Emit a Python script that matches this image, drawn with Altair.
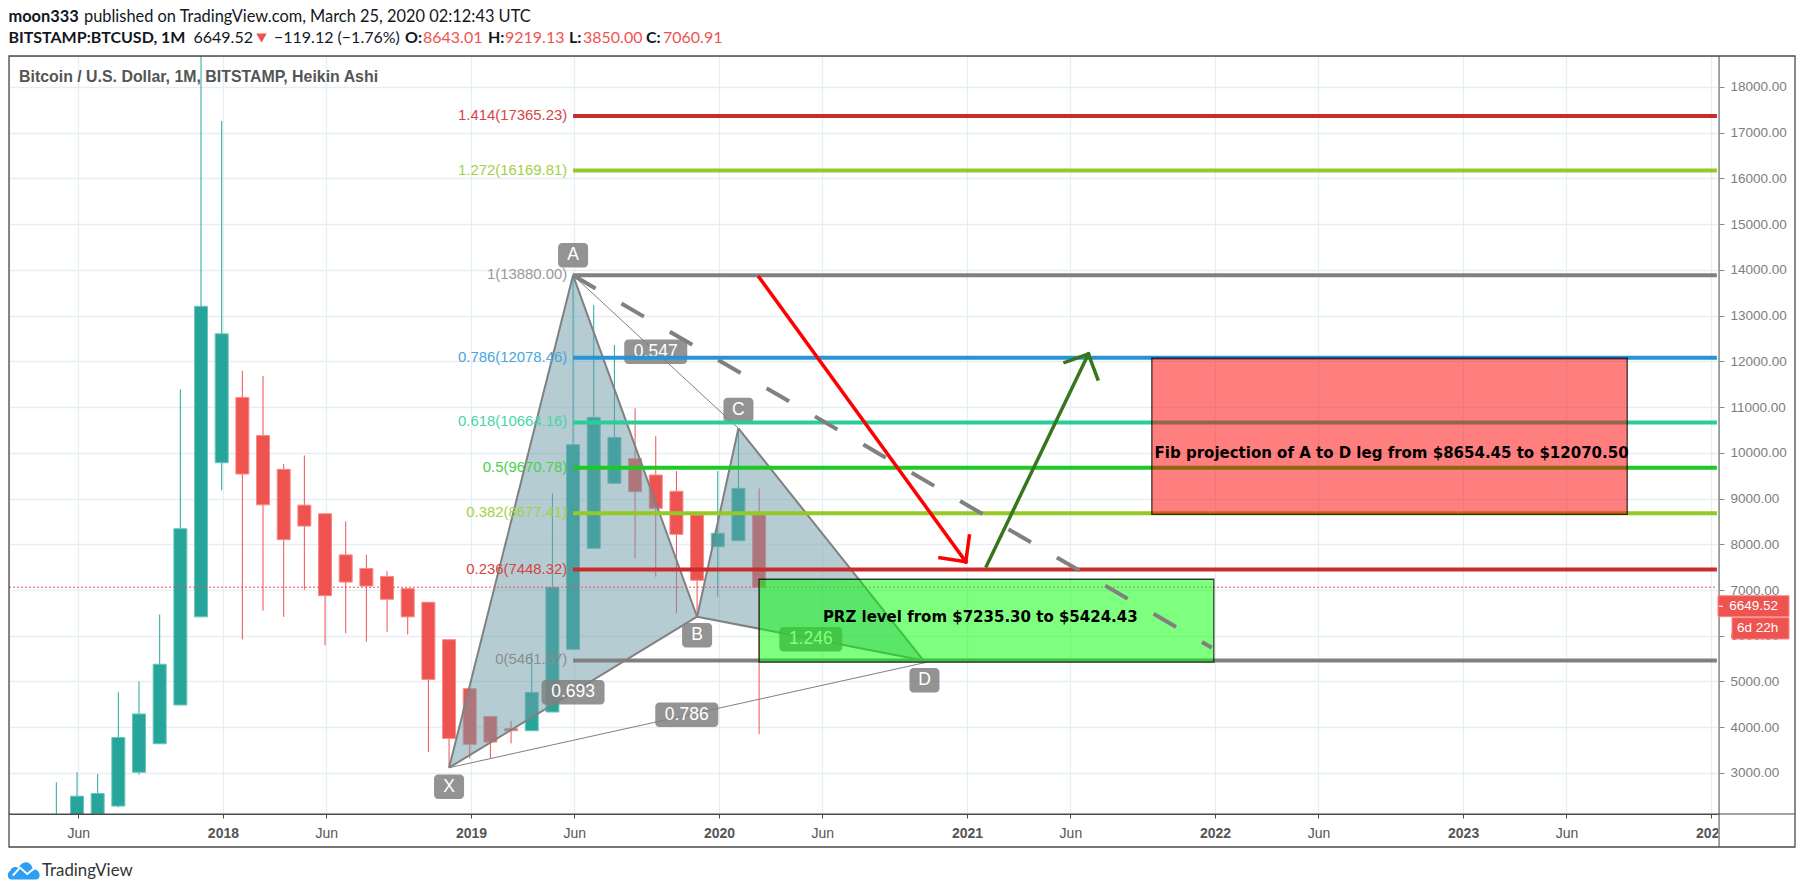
import altair as alt
import pandas as pd

# ---- data ----
months = list(range(4, 39))  # 4 = May 2017 ... 38 = Mar 2020 (0 = Jan 2017)
opens = [1400,1900,2100,2276,3015,3638,4486,6413,9782,11210,10377,9638,8855,8667,7768,7471,7297,7029,6732,5914,4843,4237,3968,3924,4332,5703,7911,9332,9871,9514,9158,8640,7947,8078,8643.01]
highs = [2797,3015,2978,4775,5000,6464,11384,19666,17254,11790,11681,9754,9942,8667,8500,7768,7413,7029,6732,5914,4843,4237,4135,5637,9114,13924,13231,12356,10972,10367,9602,8640,9602,10535,9219.13]
lows = [1300,1850,2000,2247,2964,3638,4486,6413,9181,5920,6551,6413,7007,5790,6058,5870,6087,6029,3458,3115,3319,3319,3647,3924,4332,5703,7911,9332,7692,7292,6490,6417,6854,8078,3850]
closes = [1900,2493,2551,3776,4290,5377,8340,13203,12601,9536,8862,8101,8398,6877,7174,7087,6797,6413,5046,3756,3625,3676,3924,4762,7058,10177,10775,10337,9149,8786,8217,7212,8240,9223,7060.91]

fib_levels = [17365.23,16169.81,13880.00,12078.46,10664.16,9670.78,8677.41,7448.32,5461.57]
fib_labels = ["1.414(17365.23)","1.272(16169.81)","1(13880.00)","0.786(12078.46)","0.618(10664.16)","0.5(9670.78)","0.382(8677.41)","0.236(7448.32)","0(5461.57)"]
fib_colors = ["#cc2b2b","#94c926","#808080","#2a93d5","#27cf96","#1ec925","#94c926","#cc2b2b","#808080"]
fib_text_colors = ["#d64545","#a3d145","#999999","#4aa5dc","#47d6a6","#45d14a","#a3d145","#d64545","#8c8c8c"]

tick_idx = [5,12,17,24,29,36,41,48,53,60,65,72,77,84]
tick_labels = ["Jun","2018","Jun","2019","Jun","2020","Jun","2021","Jun","2022","Jun","2023","Jun","2024"]
y_ticks = list(range(3000, 19000, 1000))

tri1_x = [23, 29, 35]; tri1_top = [3115, 13880, 6416]; tri1_bot = [3115, 4766, 6416]
tri2_x = [35, 37, 45.95]; tri2_top = [6416, 10535, 5461]; tri2_bot = [6416, 6242, 5461]

edge_x1 = [23, 29, 35, 37, 35, 23]
edge_y1 = [3115, 13880, 6416, 10535, 6416, 3115]
edge_x2 = [29, 35, 37, 45.95, 45.95, 35]
edge_y2 = [13880, 6416, 10535, 5461, 5461, 6416]

thin_x1 = [29, 23]; thin_y1 = [13880, 3115]; thin_x2 = [37, 46.1]; thin_y2 = [10535, 5420]

letter_x = [23, 29, 35, 37, 46]
letter_y = [2700, 14317, 6010, 10935, 5026]
letter_t = ["X", "A", "B", "C", "D"]
ratio_x = [33, 29, 34.5, 40.5]
ratio_y = [12210, 4766, 4274, 5922]
ratio_t = ["0.547", "0.693", "0.786", "1.246"]

red_x1 = [38, 46.75, 48.17]; red_y1 = [13836, 7706, 8180]; red_x2 = [48, 48, 48]; red_y2 = [7619, 7619, 7619]
grn_x1 = [49, 52.8, 54.38]; grn_y1 = [7525, 11978, 11613]; grn_x2 = [53.93, 53.93, 53.93]; grn_y2 = [12160, 12160, 12160]

current_close = 7060.91
current_price = 6649.52

FS = "Liberation Sans"

xscale = alt.Scale(domain=[1.71, 84.44], nice=False, zero=False, padding=0)
yscale = alt.Scale(domain=[2103, 18675], nice=False, zero=False, padding=0)

tick_vals = [round(t + 0.06, 2) for t in tick_idx]
label_expr = "[" + ",".join(f"'{s}'" for s in tick_labels) + "][indexof([" + ",".join(str(v) for v in tick_vals) + "],datum.value)]"
xaxis = alt.Axis(
    values=tick_vals, labelExpr=label_expr, grid=True, gridColor="#e6eef5", gridWidth=1.3,
    domainColor="#4a4a4a", tickColor="#4a4a4a", tickSize=4, labelFont=FS, labelFontSize=14,
    labelColor="#555555", labelPadding=8, title=None,
    labelFontWeight=alt.condition("round(datum.value-0.06)%12==0", alt.value("bold"), alt.value("normal")),
    labelOverlap=False, labelFlush=False, labelBound=False)
yaxis = alt.Axis(
    orient="right", values=y_ticks, format=".2f", grid=True, gridColor="#e6eef5", gridWidth=1.3,
    domain=False, tickColor="#888888", tickSize=5, labelFont=FS, labelFontSize=13.5, title=None,
    labelColor="#7d7d7d", labelPadding=6, labelOverlap=False, labelBound=False)
X = lambda f: alt.X(f, scale=xscale, axis=xaxis)
Y = lambda f: alt.Y(f, scale=yscale, axis=yaxis)

df = pd.DataFrame(dict(x=months, o=opens, h=highs, l=lows, c=closes))
up = df[df.c >= df.o]
dn = df[df.c < df.o]

layers = []

# candles
for d, col, edge in [(up, "#26a69a", "#6cc5bc"), (dn, "#ef5350", "#f58b89")]:
    layers.append(alt.Chart(d).mark_rule(color=col, strokeWidth=1, clip=True).encode(x=X("x:Q"), y=Y("l:Q"), y2="h:Q"))
    layers.append(alt.Chart(d).mark_bar(size=13, color=col, stroke=edge, strokeWidth=1, clip=True).encode(x=X("x:Q"), y=Y("o:Q"), y2="c:Q"))

# harmonic pattern
for xs, top, bot in [(tri1_x, tri1_top, tri1_bot), (tri2_x, tri2_top, tri2_bot)]:
    layers.append(alt.Chart(pd.DataFrame(dict(x=xs, t=top, b=bot))).mark_area(color="#6b99a7", opacity=0.5).encode(x=X("x:Q"), y=Y("t:Q"), y2="b:Q"))
layers.append(alt.Chart(pd.DataFrame(dict(x=edge_x1, y=edge_y1, x2=edge_x2, y2=edge_y2))).mark_rule(color="#808080", strokeWidth=2).encode(x=X("x:Q"), y=Y("y:Q"), x2="x2:Q", y2="y2:Q"))
layers.append(alt.Chart(pd.DataFrame(dict(x=thin_x1, y=thin_y1, x2=thin_x2, y2=thin_y2))).mark_rule(color="#808080", strokeWidth=1).encode(x=X("x:Q"), y=Y("y:Q"), x2="x2:Q", y2="y2:Q"))
ld = pd.DataFrame(dict(x=letter_x, y=letter_y, t=letter_t))
rd = pd.DataFrame(dict(x=ratio_x, y=ratio_y, t=ratio_t))
layers.append(alt.Chart(ld).mark_rect(width=30, height=24.5, cornerRadius=4, color="#808080", opacity=0.85).encode(x=X("x:Q"), y=Y("y:Q")))
layers.append(alt.Chart(rd).mark_rect(width=63, height=24.5, cornerRadius=4, color="#808080", opacity=0.85).encode(x=X("x:Q"), y=Y("y:Q")))
for d in (ld, rd):
    layers.append(alt.Chart(d).mark_text(font=FS, fontSize=17.5, color="#ffffff", baseline="middle", align="center").encode(x=X("x:Q"), y=Y("y:Q"), text="t:N"))

# fib levels
fd = pd.DataFrame(dict(y=fib_levels, t=fib_labels, c=fib_colors, tc=fib_text_colors, x=[29]*9, x2=[84.34]*9, lx=[28.72]*9))
layers.append(alt.Chart(fd).mark_rule(strokeWidth=4).encode(x=X("x:Q"), x2="x2:Q", y=Y("y:Q"), color=alt.Color("c:N", scale=None)))
layers.append(alt.Chart(fd).mark_text(font=FS, fontSize=14.9, align="right", baseline="middle").encode(x=X("lx:Q"), y=Y("y:Q"), text="t:N", color=alt.Color("tc:N", scale=None)))

# last-close line
layers.append(alt.Chart(pd.DataFrame(dict(y=[current_close], x=[1.71], x2=[84.34]))).mark_rule(color="#ef5350", strokeWidth=1, strokeDash=[2, 2]).encode(x=X("x:Q"), x2="x2:Q", y=Y("y:Q")))

# zones
zones = [(38, 60, 7235.30, 5424.43, "#00ff00"), (57, 80, 12070.50, 8654.45, "#ff0000")]
for x1, x2, y1, y2, col in zones:
    layers.append(alt.Chart(pd.DataFrame(dict(x=[x1], x2=[x2], y=[y1], y2=[y2]))).mark_rect(color=col, fillOpacity=0.5, stroke="#000000", strokeOpacity=0.75, strokeWidth=1.3).encode(x=X("x:Q"), x2="x2:Q", y=Y("y:Q"), y2="y2:Q"))
zone_txt = pd.DataFrame(dict(x=[48.7, 68.6], y=[6416, 10002], t=["PRZ level from $7235.30 to $5424.43", "Fib projection of A to D leg from $8654.45 to $12070.50"]))
layers.append(alt.Chart(zone_txt).mark_text(font="DejaVu Sans", fontWeight="bold", fontSize=15, color="#000000", align="center", baseline="middle").encode(x=X("x:Q"), y=Y("y:Q"), text="t:N"))

# dashed trend line (above the zones)
layers.append(alt.Chart(pd.DataFrame(dict(x=[29], y=[13880], x2=[59.9], y2=[5738]))).mark_rule(color="#808080", strokeWidth=4, strokeDash=[26, 30]).encode(x=X("x:Q"), y=Y("y:Q"), x2="x2:Q", y2="y2:Q"))

# arrows
for a, b, c, d, col in [(red_x1, red_y1, red_x2, red_y2, "#ff0000"), (grn_x1, grn_y1, grn_x2, grn_y2, "#38761d")]:
    layers.append(alt.Chart(pd.DataFrame(dict(x=a, y=b, x2=c, y2=d))).mark_rule(color=col, strokeWidth=3.5, strokeCap="square").encode(x=X("x:Q"), y=Y("y:Q"), x2="x2:Q", y2="y2:Q"))

# ---- chart furniture in plot pixels ----
OX, OY = 9, 56
def txt(s, px, py, size, color, font=FS, weight="normal", align="left"):
    return alt.Chart(pd.DataFrame(dict(t=[s]))).mark_text(font=font, fontSize=size, color=color, fontWeight=weight, align=align, baseline="middle").encode(
        x=alt.value(px - OX), y=alt.value(py - OY), text="t:N")
def box(x1, x2, y1, y2, **kw):
    return alt.Chart(pd.DataFrame(dict(a=[0]))).mark_rect(**kw).encode(
        x=alt.value(x1 - OX), x2=alt.value(x2 - OX), y=alt.value(y1 - OY), y2=alt.value(y2 - OY))

# mask cuts the last year label at the price scale
layers.append(box(1720, 1794, 815, 846, color="#ffffff"))
# rule along the bottom and price-scale edge
layers.append(box(1718.2, 1720, 56, 847, color="#9a9a9a"))
layers.append(box(9, 1795, 813.6, 814.6, color="#4a4a4a"))
layers.append(box(9, 1795, 56, 847, fillOpacity=0, fill="#ffffff", stroke="#4a4a4a", strokeWidth=1.3))

# price tag
layers.append(box(1718, 1789, 595.7, 616.7, color="#ef5350", stroke="#f58b89", strokeWidth=1))
layers.append(box(1732, 1789, 617.7, 639, color="#ef5350", stroke="#f58b89", strokeWidth=1))
layers.append(box(1719, 1723, 605.7, 606.7, color="#ffffff"))
layers.append(txt(f"{current_price:.2f}", 1729.3, 606.2, 13.5, "#ffffff"))
layers.append(txt("6d 22h", 1737, 628.3, 13.5, "#ffffff"))

# header
HF = "Lato"
black = "#131722"
runs = [
    ("moon333", 8.4, 16.7, "bold", black, 16.4),
    ("published on TradingView.com, March 25, 2020 02:12:43 UTC", 84, 16.7, "normal", black, 16.4),
    ("BITSTAMP:BTCUSD, 1M", 8.4, 38.3, "bold", black, 16),
    ("6649.52", 193.5, 38.3, "normal", black, 16),
    ("\u2212119.12 (\u22121.76%)", 274, 38.3, "normal", black, 16),
    ("O:", 405, 38.3, "bold", black, 16),
    ("8643.01", 423, 38.3, "normal", "#ef5350", 16),
    ("H:", 488, 38.3, "bold", black, 16),
    ("9219.13", 505, 38.3, "normal", "#ef5350", 16),
    ("L:", 569, 38.3, "bold", black, 16),
    ("3850.00", 583, 38.3, "normal", "#ef5350", 16),
    ("C:", 646, 38.3, "bold", black, 16),
    ("7060.91", 663, 38.3, "normal", "#ef5350", 16),
]
for s, px, py, w, c, fs in runs:
    layers.append(txt(s, px, py, fs, c, font=HF, weight=w))
layers.append(alt.Chart(pd.DataFrame(dict(a=[0]))).mark_point(shape="triangle-down", filled=True, color="#ef5350", opacity=1, size=110).encode(x=alt.value(261.5 - OX), y=alt.value(38 - OY)))
layers.append(txt("Bitcoin / U.S. Dollar, 1M, BITSTAMP, Heikin Ashi", 19, 76.7, 15.9, "#555555", weight="bold"))

# logo
cloud = "M -0.8 0.6 C -1.05 0.6 -1.1 0.15 -0.85 0.05 C -0.8 -0.2 -0.5 -0.25 -0.35 -0.1 C -0.2 -0.55 0.35 -0.65 0.5 -0.2 C 0.55 -0.1 0.55 -0.1 0.6 -0.05 C 1.05 -0.05 1.1 0.6 0.75 0.6 Z"
zig = "M -0.7 0.35 L -0.25 -0.15 L 0.2 0.25 L 0.7 -0.15"
layers.append(alt.Chart(pd.DataFrame(dict(a=[0]))).mark_point(shape=cloud, filled=True, color="#2e9ef4", opacity=1, size=1024).encode(x=alt.value(24 - OX), y=alt.value(870 - OY)))
layers.append(alt.Chart(pd.DataFrame(dict(a=[0]))).mark_point(shape=zig, filled=False, stroke="#ffffff", strokeWidth=2, opacity=1, size=1024).encode(x=alt.value(24 - OX), y=alt.value(870 - OY)))
layers.append(txt("TradingView", 42, 870.7, 16.8, "#333333", font=HF))

chart = alt.layer(*layers).properties(
    width=1710, height=758,
    padding={"left": 1, "top": 48, "right": 77, "bottom": 72},
    autosize=alt.AutoSizeParams(type="none"),
).configure_view(stroke=None).configure(background="#ffffff")

chart.save("out.html", embed_options={"renderer": "svg", "actions": False})
